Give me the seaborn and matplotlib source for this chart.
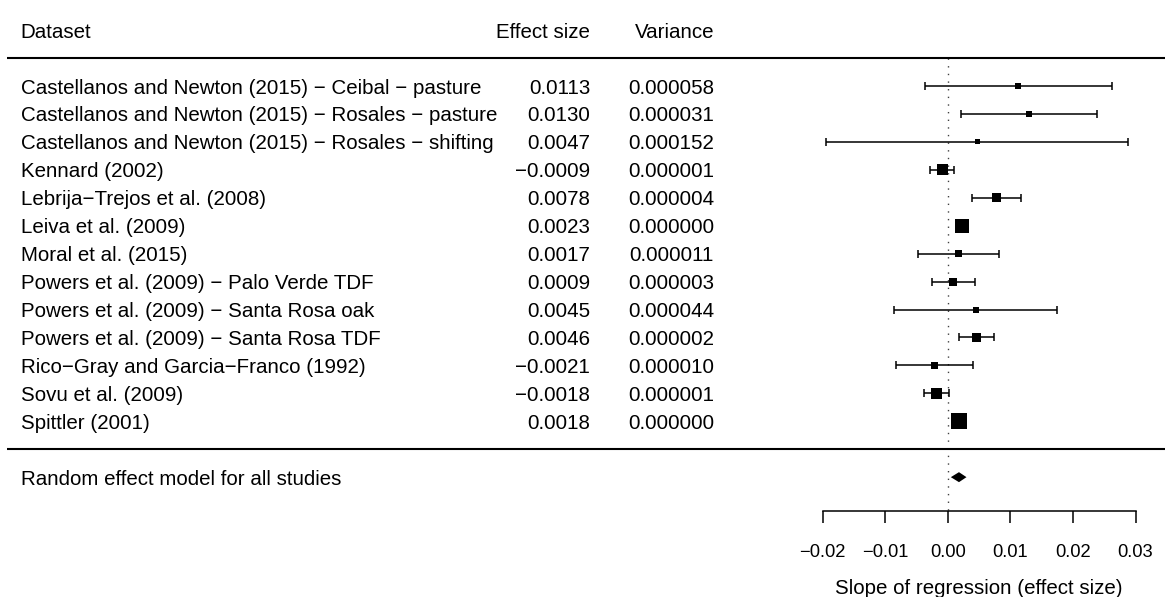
import numpy as np
import pandas as pd
import matplotlib
matplotlib.use("Agg")
import matplotlib.pyplot as plt
import matplotlib.transforms as mtransforms
import seaborn as sns

MINUS = "\u2212"

# ---- data -------------------------------------------------------------
datasets = [
    "Castellanos and Newton (2015) \u2212 Ceibal \u2212 pasture",
    "Castellanos and Newton (2015) \u2212 Rosales \u2212 pasture",
    "Castellanos and Newton (2015) \u2212 Rosales \u2212 shifting",
    "Kennard (2002)",
    "Lebrija\u2212Trejos et al. (2008)",
    "Leiva et al. (2009)",
    "Moral et al. (2015)",
    "Powers et al. (2009) \u2212 Palo Verde TDF",
    "Powers et al. (2009) \u2212 Santa Rosa oak",
    "Powers et al. (2009) \u2212 Santa Rosa TDF",
    "Rico\u2212Gray and Garcia\u2212Franco (1992)",
    "Sovu et al. (2009)",
    "Spittler (2001)",
]
effect_size = [0.0113, 0.0130, 0.0047, -0.0009, 0.0078, 0.0023, 0.0017,
               0.0009, 0.0045, 0.0046, -0.0021, -0.0018, 0.0018]
variance = [0.000058, 0.000031, 0.000152, 0.000001, 0.000004, 0.000000,
            0.000011, 0.000003, 0.000044, 0.000002, 0.000010, 0.000001,
            0.000000]

summary_label = "Random effect model for all studies"
summary_estimate = 0.0018
summary_ci = (0.0005, 0.0030)

header_labels = ["Dataset", "Effect size", "Variance"]
x_ticks = [-0.02, -0.01, 0.00, 0.01, 0.02, 0.03]
x_label = "Slope of regression (effect size)"

# ---- styling ----------------------------------------------------------
# square side in pixels (study weights)
box_px = [6, 6, 5, 11, 9, 14, 7, 8, 6, 9, 7, 11, 16]

W, H, DPI = 1165, 597, 100
ROW_PX = 27.94          # vertical spacing of rows
ROW0_PX = 86.0          # pixel position of first study row
ZERO_PX = 947.7         # pixel position of x = 0
UNIT_PX = 6260.0        # pixels per unit of effect size
FS = 14.8
FS_TICK = 13.2

sns.set_theme(style="white")
plt.rcParams["font.family"] = ["Liberation Sans", "DejaVu Sans"]
plt.rcParams["axes.unicode_minus"] = True
plt.rcParams["text.color"] = "black"
plt.rcParams["xtick.color"] = "black"
plt.rcParams["xtick.labelcolor"] = "black"

fig = plt.figure(figsize=(W / DPI, H / DPI), dpi=DPI)
ax = fig.add_axes([0, 0, 1, 1])
ax.set_xlim(-ZERO_PX / UNIT_PX, (W - ZERO_PX) / UNIT_PX)
ax.set_ylim((H - ROW0_PX) / ROW_PX, -ROW0_PX / ROW_PX)
for s in ax.spines.values():
    s.set_visible(False)
ax.set_yticks([])
ax.grid(False)

k = len(datasets)
rows = np.arange(k)
summary_row = k + 1
axis_row = summary_row + 1.21

df = pd.DataFrame({
    "dataset": datasets,
    "es": effect_size,
    "var": variance,
    "row": rows,
})
df["half_ci"] = 1.96 * np.sqrt(df["var"])

# text columns (x in figure fraction, y in rows)
tx = mtransforms.blended_transform_factory(fig.transFigure, ax.transData)
x_name, x_es, x_var = 20.7 / W, 590 / W, 714 / W

def fmt(v, nd):
    return f"{v:.{nd}f}".replace("-", MINUS)

ax.text(x_name, -2, header_labels[0], transform=tx, ha="left",
        va="center_baseline", fontsize=FS)
ax.text(x_es, -2, header_labels[1], transform=tx, ha="right",
        va="center_baseline", fontsize=FS)
ax.text(x_var, -2, header_labels[2], transform=tx, ha="right",
        va="center_baseline", fontsize=FS)

for _, r in df.iterrows():
    ax.text(x_name, r["row"], r["dataset"], transform=tx, ha="left",
            va="center_baseline", fontsize=FS)
    ax.text(x_es, r["row"], fmt(r["es"], 4), transform=tx, ha="right",
            va="center_baseline", fontsize=FS)
    ax.text(x_var, r["row"], fmt(r["var"], 6), transform=tx, ha="right",
            va="center_baseline", fontsize=FS)

ax.text(x_name, summary_row, summary_label, transform=tx, ha="left",
        va="center_baseline", fontsize=FS)

# horizontal rules
line_x0 = 7 / W
ax.plot([line_x0, 1], [-1, -1], transform=tx, color="black", lw=1.5,
        solid_capstyle="butt")
ax.plot([line_x0, 1], [k, k], transform=tx, color="black", lw=1.5,
        solid_capstyle="butt")

# reference line at zero
ax.plot([0, 0], [-1, axis_row], color="black", lw=1.0,
        linestyle=(0, (1, 4.5)), alpha=0.75)

# confidence intervals
ax.errorbar(df["es"], df["row"], xerr=df["half_ci"], fmt="none",
            ecolor="black", elinewidth=1.1, capsize=2.9, capthick=1.1,
            zorder=3)

# study boxes, area proportional to weight
size_map = {d: (p * 72 / DPI) ** 2 for d, p in zip(datasets, box_px)}
sns.scatterplot(data=df, x="es", y="row", size="dataset", sizes=size_map,
                marker="s", color="black", linewidth=0, legend=False,
                ax=ax, zorder=4)

# summary diamond
h = 5.0 / ROW_PX
lo, hi = summary_ci
ax.fill([lo, summary_estimate, hi, summary_estimate],
        [summary_row, summary_row - h, summary_row, summary_row + h],
        color="black", lw=0, zorder=4)

# x axis
ax.spines["bottom"].set_visible(True)
ax.spines["bottom"].set_position(("data", axis_row))
ax.spines["bottom"].set_bounds(min(x_ticks), max(x_ticks))
ax.spines["bottom"].set_linewidth(1.1)
ax.spines["bottom"].set_color("black")
ax.set_xticks(x_ticks)
ax.set_xticklabels([fmt(t, 2) for t in x_ticks], fontsize=FS_TICK)
ax.tick_params(axis="x", bottom=True, direction="out", length=12 * 72 / DPI,
               width=1.1, color="black", pad=15, labelcolor="black")
ax.set_xlabel("")
ax.text(np.mean([min(x_ticks), max(x_ticks)]), axis_row + 2.72, x_label,
        ha="center", va="center_baseline", fontsize=FS)

fig.savefig("out.png", dpi=DPI, facecolor="white")
